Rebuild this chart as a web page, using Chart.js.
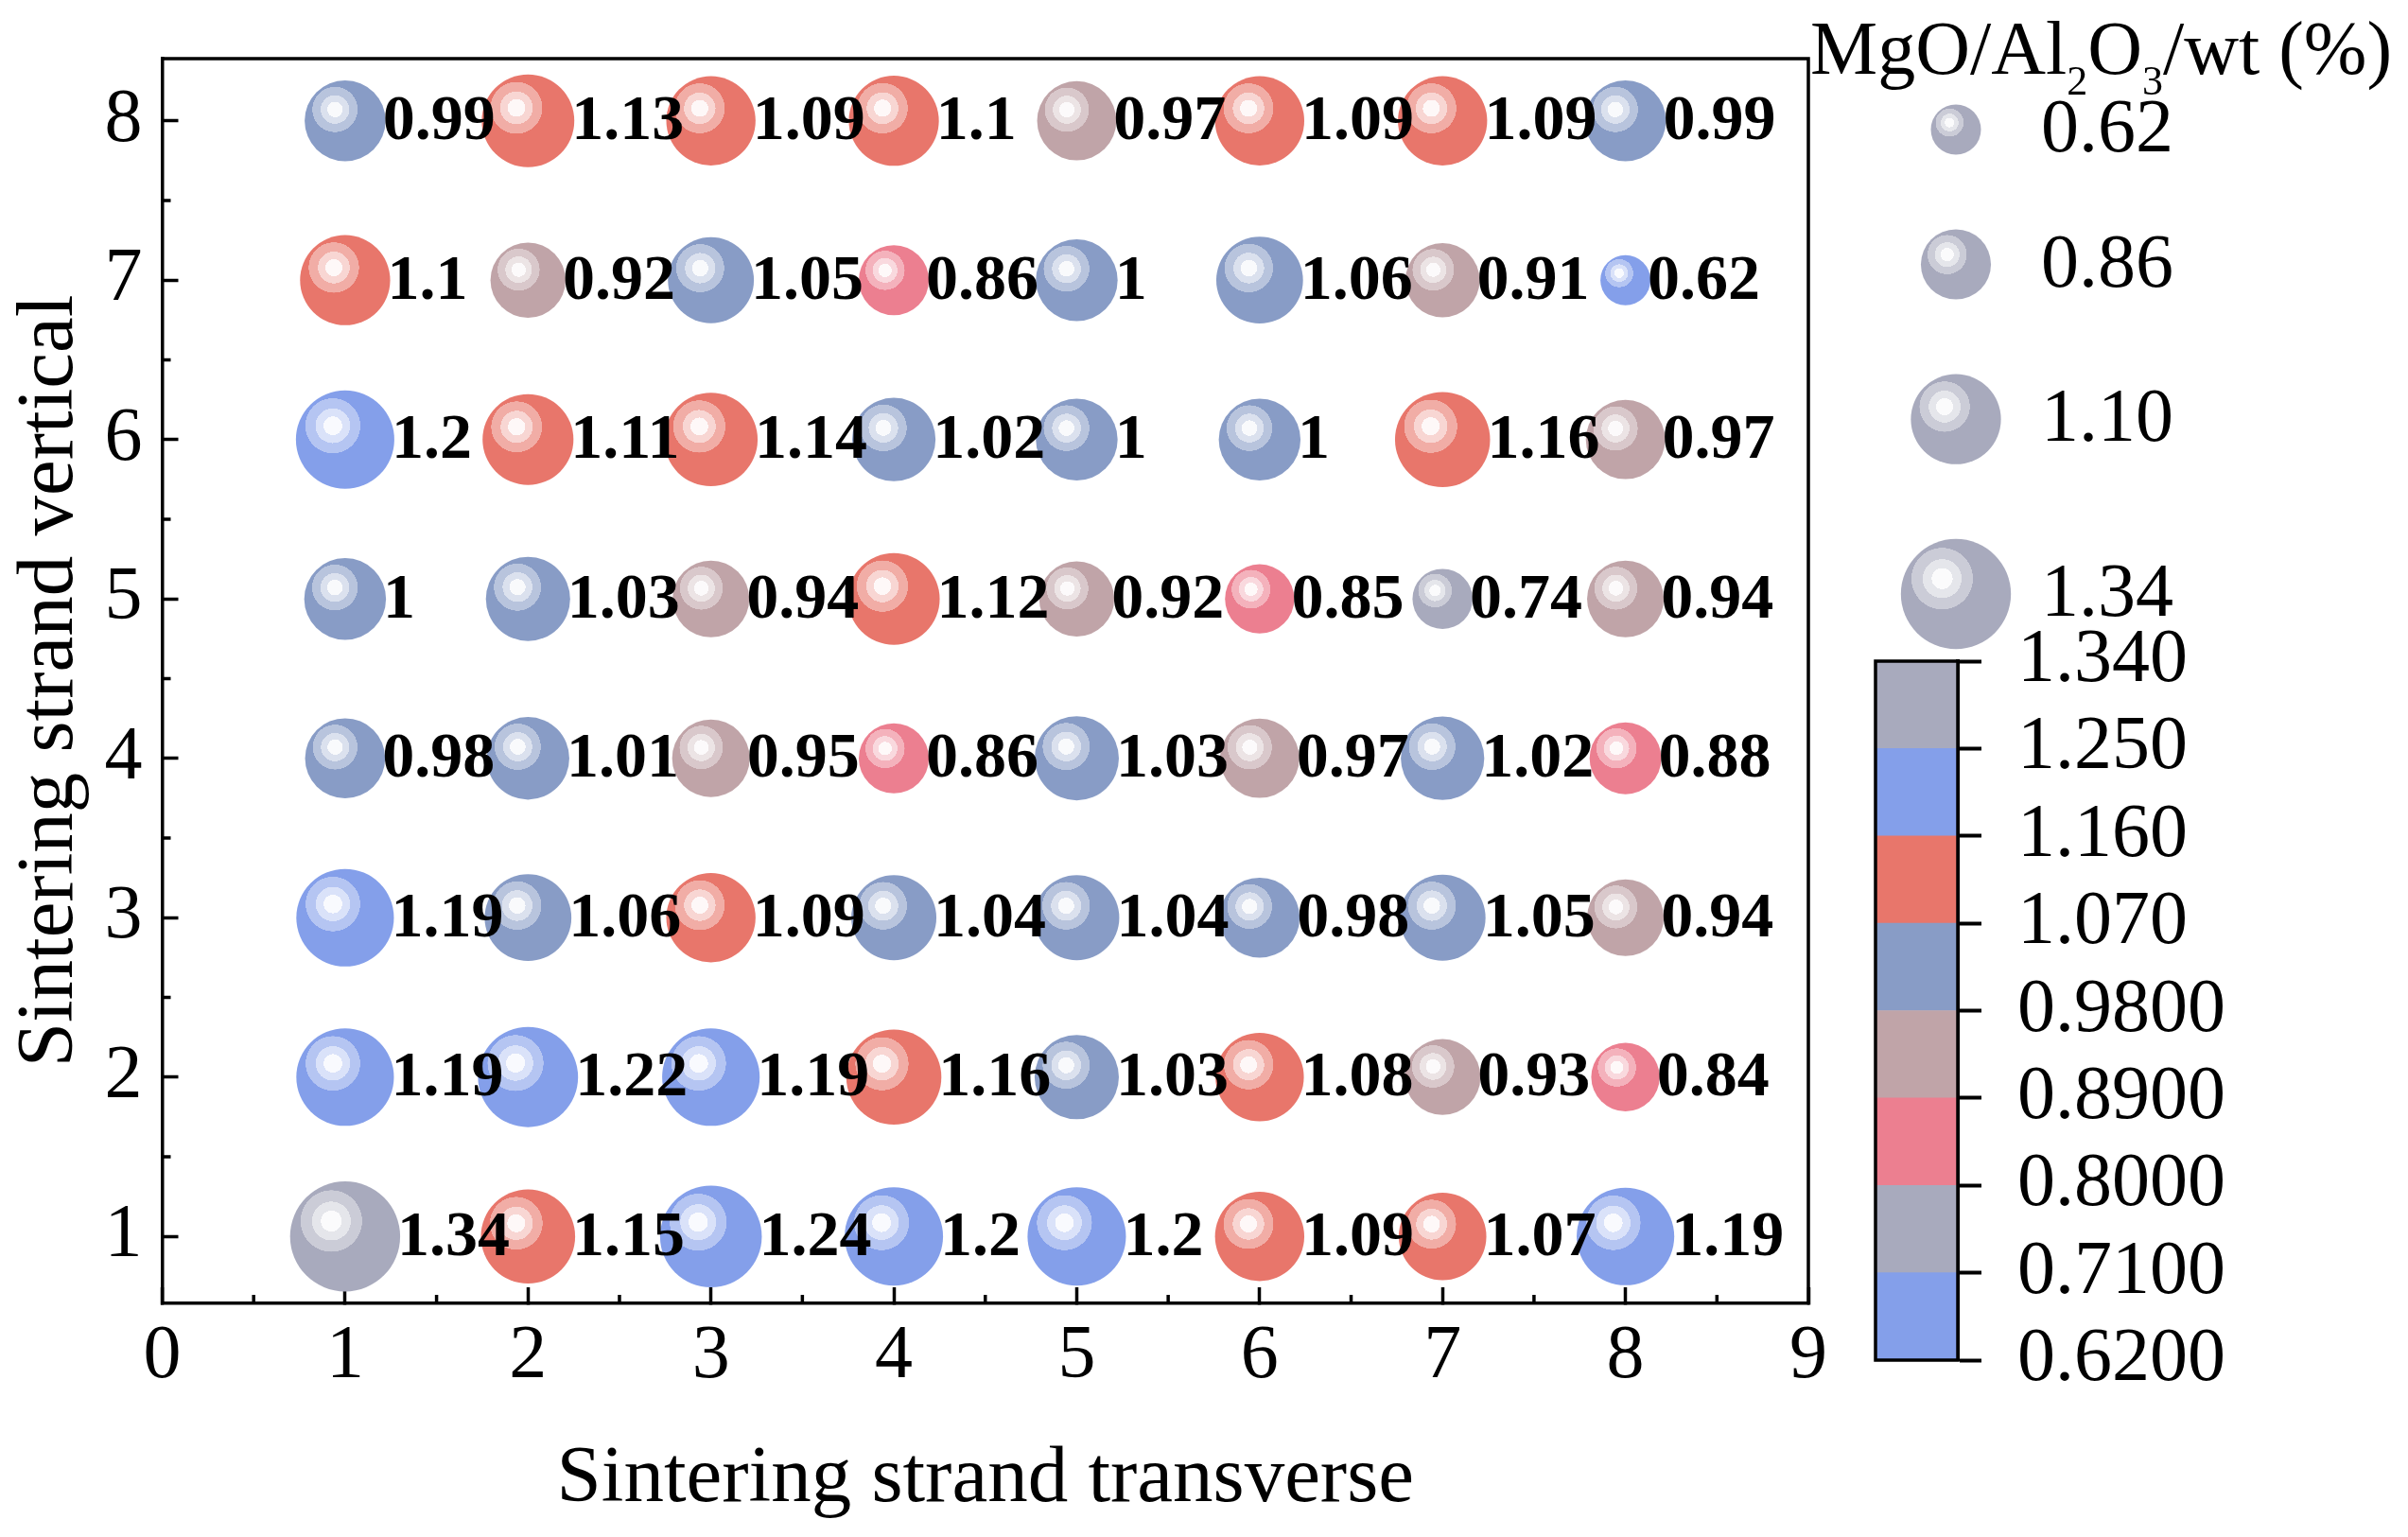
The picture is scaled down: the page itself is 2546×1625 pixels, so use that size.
<!DOCTYPE html>
<html>
<head>
<meta charset="utf-8">
<script src="https://cdn.jsdelivr.net/npm/chart.js@4/dist/chart.umd.min.js"></script>
<style>
  html, body { margin: 0; padding: 0; background: #fff; }
  #wrap { position: relative; width: 2546px; height: 1625px; }
  #main { position: absolute; left: 0; top: 0; }
  #cbar { position: absolute; left: 1981px; top: 639px; }
</style>
</head>
<body>
<div id="wrap">
  <canvas id="main" width="2546" height="1625"></canvas>
  <canvas id="cbar" width="489" height="859"></canvas>
</div>
<script>
// Posiciones de la rejilla
const transverse = [1, 2, 3, 4, 5, 6, 7, 8];
const vertical = [1, 2, 3, 4, 5, 6, 7, 8];

// MgO/Al2O3 por fila (vertical 1 .. 8), columnas transverse 1 .. 8
const row1 = [1.34, 1.15, 1.24, 1.2, 1.2, 1.09, 1.07, 1.19];
const row2 = [1.19, 1.22, 1.19, 1.16, 1.03, 1.08, 0.93, 0.84];
const row3 = [1.19, 1.06, 1.09, 1.04, 1.04, 0.98, 1.05, 0.94];
const row4 = [0.98, 1.01, 0.95, 0.86, 1.03, 0.97, 1.02, 0.88];
const row5 = [1, 1.03, 0.94, 1.12, 0.92, 0.85, 0.74, 0.94];
const row6 = [1.2, 1.11, 1.14, 1.02, 1, 1, 1.16, 0.97];
const row7 = [1.1, 0.92, 1.05, 0.86, 1, 1.06, 0.91, 0.62];
const row8 = [0.99, 1.13, 1.09, 1.1, 0.97, 1.09, 1.09, 0.99];
const rows = [row1, row2, row3, row4, row5, row6, row7, row8];

// Ticks de los ejes
const xTicks = [0, 1, 2, 3, 4, 5, 6, 7, 8, 9];
const yTicks = [1, 2, 3, 4, 5, 6, 7, 8];

// Escala de color (barra de la derecha)
const levels = [0.62, 0.71, 0.80, 0.89, 0.98, 1.07, 1.16, 1.25, 1.34];
const levelLabels = ['0.6200', '0.7100', '0.8000', '0.8900', '0.9800', '1.070', '1.160', '1.250', '1.340'];
const levelColors = ['#849FEA', '#A8AABD', '#EC7F90', '#C0A4A8', '#889CC6', '#E8766B', '#849FEA', '#A8AABD'];
const levelStep = 0.09;

// Leyenda de tamaños
const sizeLegend = [0.62, 0.86, 1.10, 1.34];
const sizeLegendLabels = ['0.62', '0.86', '1.10', '1.34'];

const FONT = '"Liberation Serif", "Times New Roman", serif';
Chart.defaults.font.family = FONT;
Chart.defaults.color = '#000';

// radio de la burbuja según el valor
function sizeOf(v) {
    return 26.5 + 44 * (v - levels[0]);
}

// color según el intervalo de la barra
function colorOf(v) {
    let i = Math.floor((v - levels[0]) / levelStep);
    i = Math.max(0, Math.min(levelColors.length - 1, i));
    return levelColors[i];
}

function tint(hex, t) {
    const n = parseInt(hex.slice(1), 16);
    const m = c => Math.round(c + (255 - c) * t);
    return `rgb(${m(n >> 16)},${m((n >> 8) & 255)},${m(n & 255)})`;
}

// relleno tipo "esfera" con anillos de brillo
function ballFill(c, x, y, r, base) {
    if (!isFinite(x) || !isFinite(y)) return base;
    const hx = x - 0.25 * r, hy = y - 0.28 * r;
    const g = c.createRadialGradient(hx, hy, 0, hx, hy, 0.56 * r);
    const l1 = tint(base, 0.95), l2 = tint(base, 0.7), l3 = tint(base, 0.4);
    g.addColorStop(0, l1); g.addColorStop(0.34, l1);
    g.addColorStop(0.34, l2); g.addColorStop(0.63, l2);
    g.addColorStop(0.63, l3); g.addColorStop(0.995, l3);
    g.addColorStop(1, base);
    return g;
}

// sin relleno extra arriba/abajo por las etiquetas de los ticks
function noTickPadding(s) {
    s.paddingTop = 0;
    s.paddingBottom = 0;
}

const points = [];
rows.forEach((vals, i) => {
    vals.forEach((v, j) => points.push({ x: transverse[j], y: vertical[i], v: v }));
});

// etiquetas de valor a la derecha de cada burbuja
const valueLabels = {
    id: 'valueLabels',
    afterDatasetsDraw(chart) {
        const c = chart.ctx;
        const meta = chart.getDatasetMeta(0);
        c.save();
        c.font = `bold 68px ${FONT}`;
        c.fillStyle = '#000';
        c.textAlign = 'left';
        c.textBaseline = 'middle';
        meta.data.forEach((el, i) => {
            const v = points[i].v;
            c.fillText(String(v), el.x + el.options.radius - 3, el.y + 2);
        });
        c.restore();
    }
};

// marco superior/derecho y ticks menores
const frame = {
    id: 'frame',
    afterDraw(chart) {
        const c = chart.ctx;
        const a = chart.chartArea;
        const sx = chart.scales.x, sy = chart.scales.y;
        c.save();
        c.strokeStyle = '#000';
        c.lineWidth = 3.5;
        c.beginPath();
        c.moveTo(a.left, a.top); c.lineTo(a.right, a.top); c.lineTo(a.right, a.bottom);
        c.stroke();
        c.beginPath();
        for (let k = 0; k < xTicks.length - 1; k++) {
            const px = sx.getPixelForValue(xTicks[k] + 0.5);
            c.moveTo(px, a.bottom); c.lineTo(px, a.bottom - 9);
        }
        for (let k = 0; k < yTicks.length - 1; k++) {
            const py = sy.getPixelForValue(yTicks[k] + 0.5);
            c.moveTo(a.left, py); c.lineTo(a.left + 9, py);
        }
        c.stroke();
        c.restore();
    }
};

// leyenda de tamaños + título
const sizeKey = {
    id: 'sizeKey',
    afterDraw(chart) {
        const c = chart.ctx;
        c.save();
        c.fillStyle = '#000';
        c.textBaseline = 'alphabetic';
        c.textAlign = 'left';
        const parts = [['MgO/Al', 0], ['2', 1], ['O', 0], ['3', 1], ['/wt (%)', 0]];
        let tx = 1914;
        parts.forEach(p => {
            c.font = p[1] ? `44px ${FONT}` : `80px ${FONT}`;
            c.fillText(p[0], tx, 78 + (p[1] ? 22 : 0));
            tx += c.measureText(p[0]).width;
        });
        let y = 137;
        sizeLegend.forEach((v, i) => {
            const r = sizeOf(v);
            if (i > 0) y += sizeOf(sizeLegend[i - 1]) + r + 79;
            c.beginPath();
            c.fillStyle = ballFill(c, 2068, y, r, '#A8AABD');
            c.arc(2068, y, r, 0, Math.PI * 2);
            c.fill();
            c.fillStyle = '#000';
            c.font = `80px ${FONT}`;
            c.textBaseline = 'middle';
            c.fillText(sizeLegendLabels[i], 2158, y + 2);
        });
        c.restore();
    }
};

const mainChart = new Chart(document.getElementById('main'), {
    type: 'bubble',
    data: {
        datasets: [{
            data: points,
            borderWidth: 0,
            radius: ctx => (ctx.raw ? sizeOf(ctx.raw.v) : 3),
            backgroundColor: ctx => {
                if (ctx.type !== 'data' || !ctx.raw) return '#999';
                const ch = ctx.chart;
                const x = ch.scales.x.getPixelForValue(ctx.raw.x);
                const y = ch.scales.y.getPixelForValue(ctx.raw.y);
                return ballFill(ch.ctx, x, y, sizeOf(ctx.raw.v), colorOf(ctx.raw.v));
            }
        }]
    },
    options: {
        responsive: false,
        animation: false,
        events: [],
        layout: { padding: { left: 0, right: 634, top: 62, bottom: 0 } },
        plugins: { legend: { display: false }, tooltip: { enabled: false } },
        scales: {
            x: {
                type: 'linear',
                min: 0,
                max: 9,
                afterBuildTicks: s => { s.ticks = xTicks.map(v => ({ value: v })); },
                afterFit: s => { s.height = 247; },
                border: { display: true, color: '#000', width: 3.5 },
                grid: { drawOnChartArea: false, tickLength: -17, tickWidth: 3.5, tickColor: '#000' },
                ticks: { font: { size: 80 }, padding: 26, maxRotation: 0, autoSkip: false },
                title: { display: true, text: 'Sintering strand transverse', font: { size: 85 }, padding: { bottom: 9 } }
            },
            y: {
                type: 'linear',
                min: 0.58,
                max: 8.39,
                afterBuildTicks: s => { s.ticks = yTicks.map(v => ({ value: v })); },
                afterFit: s => { s.width = 171.5; noTickPadding(s); },
                border: { display: true, color: '#000', width: 3.5 },
                grid: { drawOnChartArea: false, tickLength: -17, tickWidth: 3.5, tickColor: '#000' },
                ticks: { font: { size: 80 }, padding: 38, autoSkip: false },
                title: { display: true, text: 'Sintering strand vertical', font: { size: 85 }, padding: { top: 3 } }
            }
        }
    },
    plugins: [valueLabels, frame, sizeKey]
});

// barra de color como gráfico de barras flotantes
const cbarBox = {
    id: 'cbarBox',
    afterDraw(chart) {
        const c = chart.ctx;
        const a = chart.chartArea;
        c.save();
        c.strokeStyle = '#000';
        c.lineWidth = 3.5;
        c.strokeRect(a.left, a.top, a.right - a.left, a.bottom - a.top);
        c.restore();
    }
};

const cbarChart = new Chart(document.getElementById('cbar'), {
    type: 'bar',
    data: {
        labels: [''],
        datasets: levelColors.map((col, i) => ({
            data: [[levels[i], levels[i + 1]]],
            backgroundColor: col,
            borderWidth: 0,
            grouped: false,
            barPercentage: 1,
            categoryPercentage: 1
        }))
    },
    options: {
        responsive: false,
        animation: false,
        events: [],
        layout: { padding: { left: 2, right: 0, top: 60, bottom: 60 } },
        plugins: { legend: { display: false }, tooltip: { enabled: false } },
        scales: {
            x: { display: false },
            y: {
                position: 'right',
                min: levels[0],
                max: levels[levels.length - 1],
                afterBuildTicks: s => { s.ticks = levels.map(v => ({ value: v })); },
                afterFit: s => { s.width = 400; noTickPadding(s); },
                border: { display: true, color: '#000', width: 4 },
                grid: { drawOnChartArea: false, tickLength: 25, tickWidth: 4, tickColor: '#000' },
                ticks: {
                    font: { size: 80 },
                    padding: 38,
                    autoSkip: false,
                    callback: (v, i) => levelLabels[i]
                }
            }
        }
    },
    plugins: [cbarBox]
});
</script>
</body>
</html>
